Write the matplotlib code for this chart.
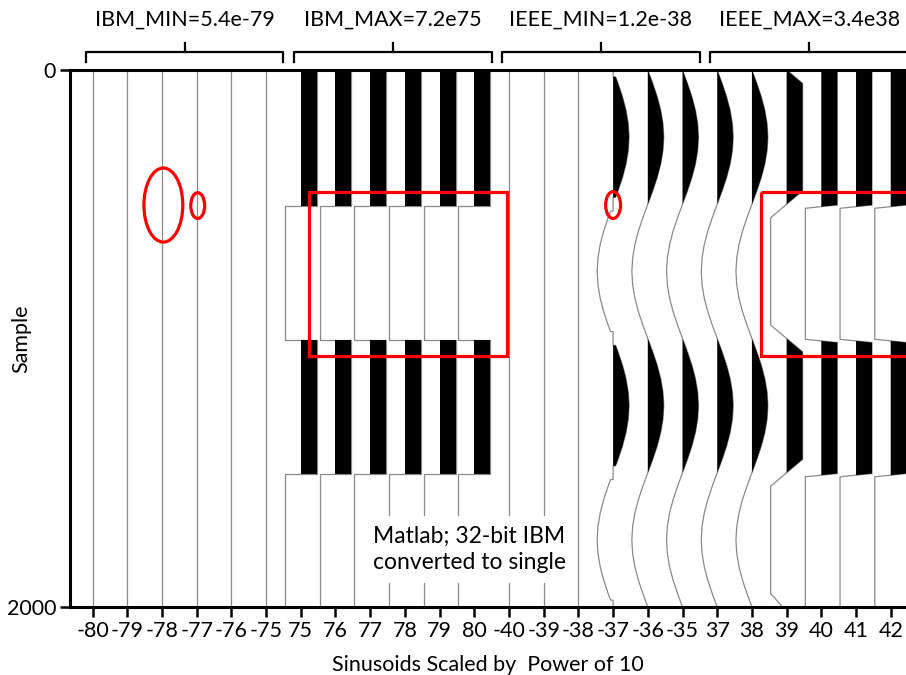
import numpy as np
import matplotlib
matplotlib.use('Agg')
import matplotlib.pyplot as plt
from matplotlib.patches import Rectangle, Ellipse

plt.rcParams['font.family'] = ['Lato', 'DejaVu Sans']

# exponent of the power of 10 that scaled each sinusoid (one trace each)
powers = ['-80', '-79', '-78', '-77', '-76', '-75',
          '75', '76', '77', '78', '79', '80',
          '-40', '-39', '-38', '-37', '-36', '-35',
          '37', '38', '39', '40', '41', '42']
group_labels = ['IBM_MIN=5.4e-79', 'IBM_MAX=7.2e75',
                'IEEE_MIN=1.2e-38', 'IEEE_MAX=3.4e38']

# displayed trace shapes (normalised amplitude against sample)
flat_t = [0, 2000]
flat_v = [0, 0]

sine_t = [0, 50, 100, 150, 200, 250, 300, 350, 400, 450,
          500, 550, 600, 650, 700, 750, 800, 850, 900, 950,
          1000, 1050, 1100, 1150, 1200, 1250, 1300, 1350, 1400, 1450,
          1500, 1550, 1600, 1650, 1700, 1750, 1800, 1850, 1900, 1950, 2000]
sine_v = [0, .31, .59, .81, .95, 1, .95, .81, .59, .31,
          0, -.31, -.59, -.81, -.95, -1, -.95, -.81, -.59, -.31,
          0, .31, .59, .81, .95, 1, .95, .81, .59, .31,
          0, -.31, -.59, -.81, -.95, -1, -.95, -.81, -.59, -.31, 0]

# -37: small values near the zero crossings come out as exact zeros
ftz_t = [0, 25, 26, 50, 100, 150, 200, 250, 300, 350, 400, 450, 474, 475,
         525, 526, 550, 600, 650, 700, 750, 800, 850, 900, 950, 974, 975,
         1025, 1026, 1050, 1100, 1150, 1200, 1250, 1300, 1350, 1400, 1450, 1474, 1475,
         1525, 1526, 1550, 1600, 1650, 1700, 1750, 1800, 1850, 1900, 1950, 1974, 1975,
         2000]
ftz_v = [0, 0, .16, .31, .59, .81, .95, 1, .95, .81, .59, .31, .16, 0,
         0, -.16, -.31, -.59, -.81, -.95, -1, -.95, -.81, -.59, -.31, -.16, 0,
         0, .16, .31, .59, .81, .95, 1, .95, .81, .59, .31, .16, 0,
         0, -.16, -.31, -.59, -.81, -.95, -1, -.95, -.81, -.59, -.31, -.16, 0,
         0]

# 39: clipped sinusoid
clip_t = sine_t
clip_v = [0, 1, 1, 1, 1, 1, 1, 1, 1, 1,
          0, -1, -1, -1, -1, -1, -1, -1, -1, -1,
          0, 1, 1, 1, 1, 1, 1, 1, 1, 1,
          0, -1, -1, -1, -1, -1, -1, -1, -1, -1, -.25]

# 75..80: hard square wave
sq_t = [0, 505, 505, 1005, 1005, 1505, 1505, 2000]
sq_v = [1, 1, -1, -1, 1, 1, -1, -1]

# 40..42: square wave with short ramps
sq2_t = [0, 5, 503, 515, 1003, 1015, 1503, 1515, 2000]
sq2_v = [.9, 1, 1, -1, -1, 1, 1, -1, -1]

shapes = {'flat': (flat_t, flat_v), 'sine': (sine_t, sine_v),
          'ftz': (ftz_t, ftz_v), 'clip': (clip_t, clip_v),
          'sq': (sq_t, sq_v), 'sq2': (sq2_t, sq2_v)}
trace_shape = (['flat'] * 6 + ['sq'] * 6 + ['flat'] * 3 + ['ftz', 'sine', 'sine']
               + ['sine', 'sine', 'clip', 'sq2', 'sq2', 'sq2'])

amp = 0.46
W, H = 906, 675
fig = plt.figure(figsize=(W / 100, H / 100), dpi=100)
ax = fig.add_axes([70 / W, 68 / H, 1 - 70 / W, 537 / H])

for i, name in enumerate(trace_shape):
    t, v = shapes[name]
    t = np.array(t, dtype=float)
    v = np.array(v, dtype=float)
    ax.plot(i + amp * v, t, color='#8a8a8a', lw=0.9, zorder=2)
    ax.fill_betweenx(t, i, i + amp * v, where=v > 0, interpolate=True,
                     color='black', lw=0, zorder=3)

ax.set_xlim(-0.65, 23.44)
ax.set_ylim(2000, 0)

# red highlights
red = '#ff0000'
ax.add_patch(Rectangle((6.24, 455), 5.71, 610, fill=False, ec=red, lw=2.3,
                       zorder=5))
ax.add_patch(Rectangle((19.26, 455), 6.0, 610, fill=False, ec=red, lw=2.3,
                       zorder=5, clip_on=False))
for (x, y, w, h) in [(2.04, 503, 1.12, 276), (3.03, 505, 0.40, 96),
                     (15.0, 503, 0.43, 100)]:
    ax.add_patch(Ellipse((x, y), w, h, fill=False, ec=red, lw=2.3, zorder=5))

ax.text(8.08, 1785, 'Matlab; 32-bit IBM\nconverted to single', fontsize=16.5,
        ha='left', va='center', linespacing=1.32, zorder=6,
        bbox=dict(facecolor='white', edgecolor='none', pad=7))

# group brackets above the plot
tr = ax.get_xaxis_transform()
y_h = 1 + 18 / 537
y_e = 1 + 8 / 537
y_c = 1 + 27 / 537
for g, lab in enumerate(group_labels):
    x0 = g * 6 - 0.2
    x1 = g * 6 + 5.5
    xc = (x0 + x1) / 2
    ax.plot([x0, x0, x1, x1], [y_e, y_h, y_h, y_e], transform=tr, color='black',
            lw=1.6, clip_on=False, solid_joinstyle='round')
    ax.plot([xc, xc], [y_h, y_c], transform=tr, color='black', lw=1.6,
            clip_on=False)
    ax.text(xc, 1 + 50 / 537, lab, transform=tr, ha='center', va='center',
            fontsize=15.5)

ax.set_xticks(range(len(powers)))
ax.set_xticklabels(powers, fontsize=15.5)
ax.set_yticks([0, 2000])
ax.set_yticklabels(['0', '2000'], fontsize=15.5)
ax.tick_params(axis='both', direction='out', length=7, width=1.8, pad=3)
ax.set_xlabel('Sinusoids Scaled by  Power of 10', fontsize=15.5, labelpad=10)
ax.set_ylabel('Sample', fontsize=15.5)
ax.yaxis.set_label_coords(-39 / 836, 0.5)

for s in ['left', 'top', 'bottom']:
    ax.spines[s].set_linewidth(2.2)
ax.spines['right'].set_visible(False)
ax.xaxis.set_ticks_position('bottom')

fig.savefig('out.png', dpi=100)
